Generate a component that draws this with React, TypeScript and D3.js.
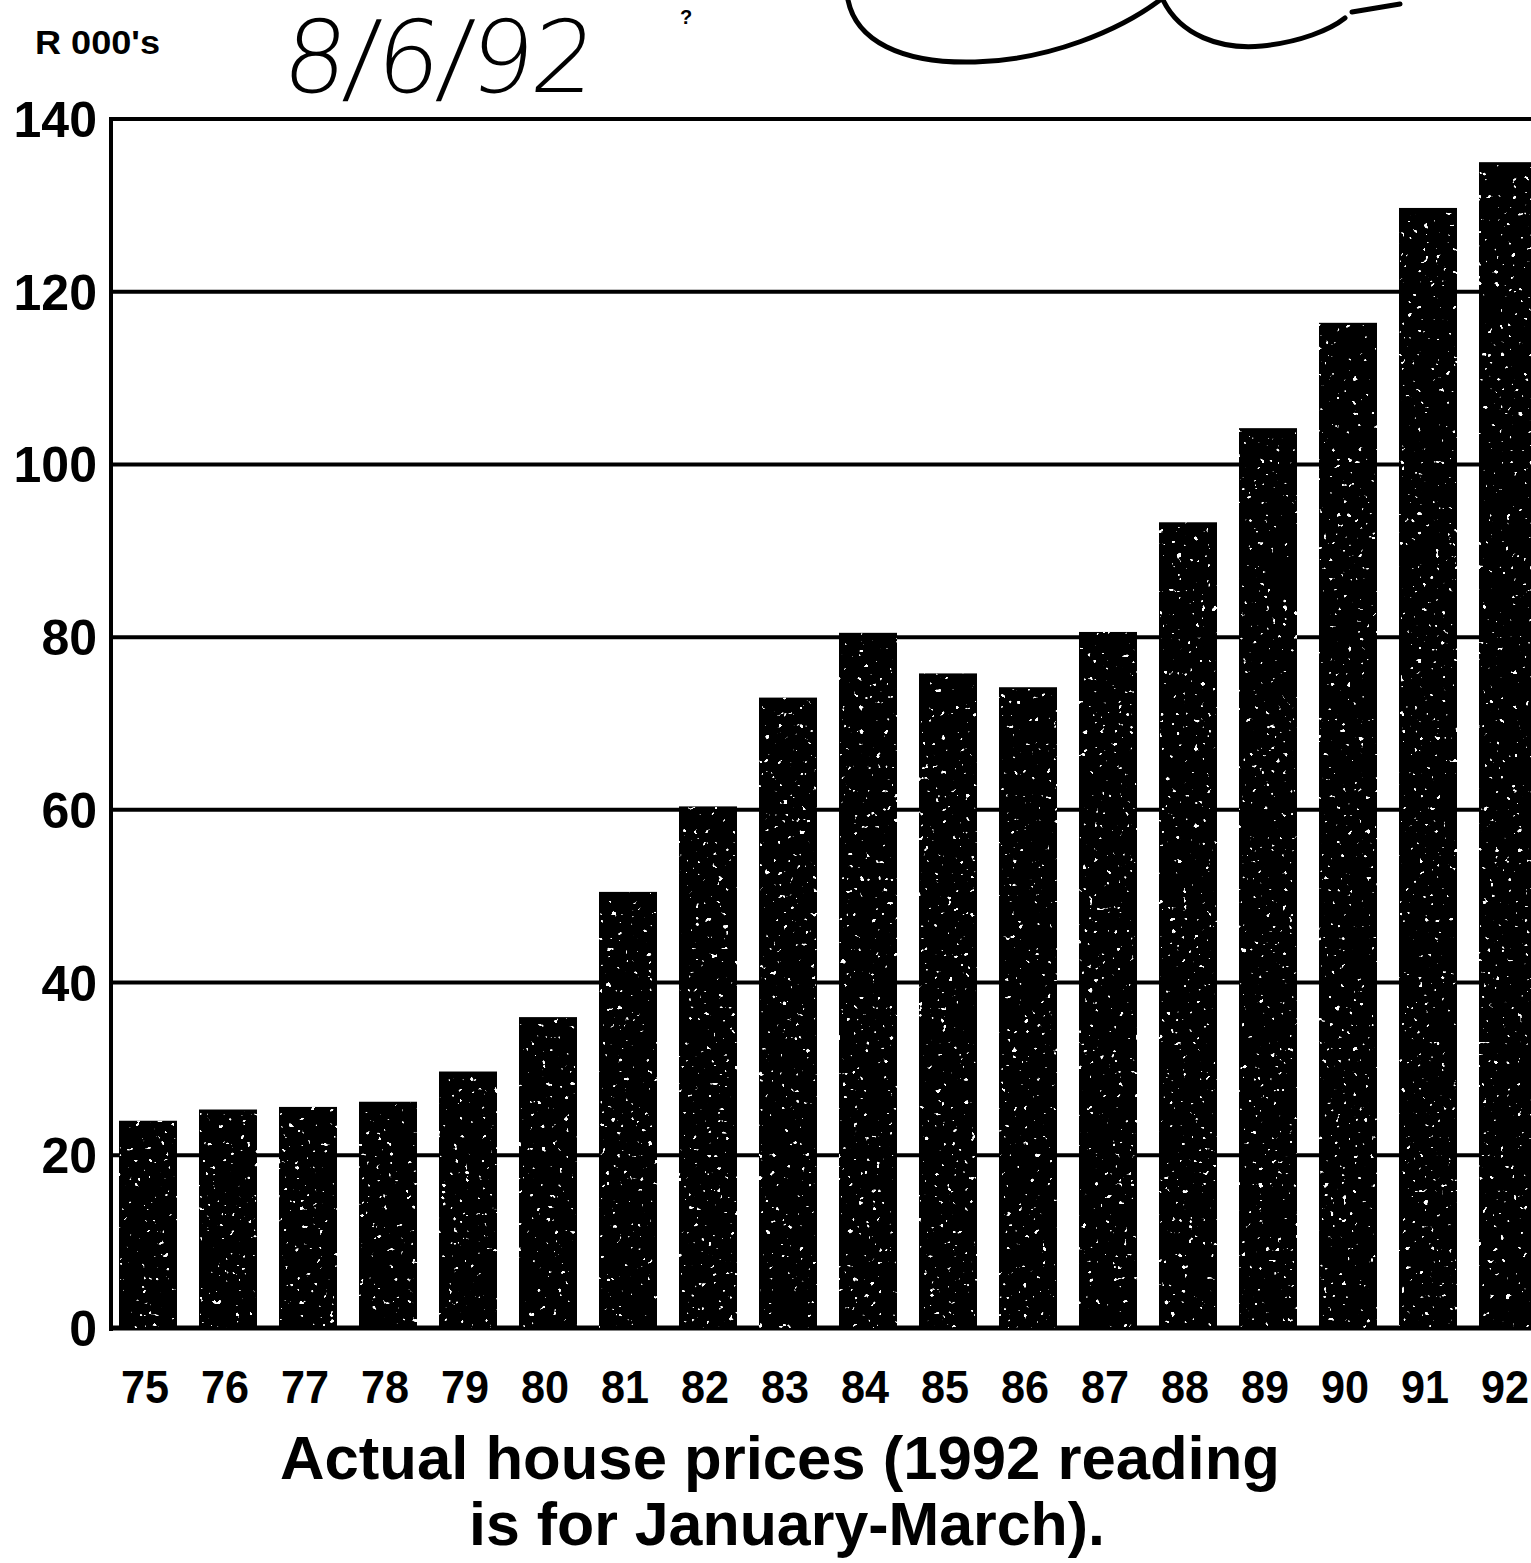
import React from "react";
import * as d3 from "d3";

// Annual average house prices, R thousands (1975–1992)
const years = ["75", "76", "77", "78", "79", "80", "81", "82", "83", "84", "85", "86", "87", "88", "89", "90", "91", "92"];
const prices = [24.0, 25.3, 25.6, 26.2, 29.7, 36.0, 50.5, 60.4, 73.0, 80.5, 75.8, 74.2, 80.6, 93.3, 104.2, 116.4, 129.7, 135.0];
const yTicks = [0, 20, 40, 60, 80, 100, 120, 140];
const unitLabel = "R 000's";
const titleLines = ["Actual house prices (1992 reading", "is for January-March)."];
const dateNote = "8/6/92";

const W = 1531;
const H = 1563;
const plotLeft = 111;
const plotTop = 119;
const plotBottom = 1328;

export default function App() {
  const x = d3
    .scaleBand<string>()
    .domain(years)
    .range([plotLeft, plotLeft + 80 * (years.length - 0.275 + 0.2)])
    .paddingInner(0.275)
    .paddingOuter(0.1);
  const y = d3.scaleLinear().domain([0, 140]).range([plotBottom, plotTop]);

  const font = "'Liberation Sans', Arial, sans-serif";

  return (
    <svg
      width={W}
      height={H}
      viewBox={`0 0 ${W} ${H}`}
      style={{ position: "absolute", left: 0, top: 0, background: "#fff" }}
    >
      <defs>
        <filter id="speckle" x="0" y="0" width="100%" height="100%" filterUnits="objectBoundingBox">
          <feTurbulence type="fractalNoise" baseFrequency="0.17" numOctaves={2} seed={11} result="noise" />
          <feColorMatrix
            in="noise"
            type="matrix"
            values="0 0 0 0 1  0 0 0 0 1  0 0 0 0 1  24 0 0 0 -17.3"
            result="dots"
          />
          <feComposite in="dots" in2="SourceAlpha" operator="in" />
        </filter>
      </defs>
      <rect width={W} height={H} fill="#fff" />

      {/* handwritten date and initials */}
      <text
        x={282}
        y={92}
        fontFamily="'DejaVu Sans', sans-serif"
        fontSize={100}
        fontWeight={200}
        fill="#000"
        transform="skewX(-6) translate(8,0)"
        letterSpacing={-2}
      >
        {dateNote}
      </text>
      <path
        d="M848,0 C856,40 900,64 975,62 C1050,60 1120,30 1160,0 M1163,0 C1180,35 1220,50 1262,46 C1300,42 1330,30 1345,18 M1352,12 L1400,4"
        fill="none"
        stroke="#000"
        strokeWidth={5}
        strokeLinecap="round"
      />
      <text x={680} y={24} fontFamily={font} fontSize={20} fontWeight="bold">?</text>

      {/* unit label */}
      <text
        x={35}
        y={54}
        fontFamily={font}
        fontSize={34}
        fontWeight="bold"
        textLength={125}
        lengthAdjust="spacingAndGlyphs"
      >
        {unitLabel}
      </text>

      {/* grid */}
      {yTicks.map((t) => (
        <line
          key={t}
          x1={plotLeft}
          x2={W}
          y1={y(t)}
          y2={y(t)}
          stroke="#000"
          strokeWidth={t === 0 ? 5 : 4}
        />
      ))}
      <line x1={plotLeft} x2={plotLeft} y1={plotTop - 2} y2={plotBottom + 3} stroke="#000" strokeWidth={4} />

      {/* bars */}
      {prices.map((v, i) => (
        <rect
          key={years[i]}
          x={x(years[i])}
          y={y(v)}
          width={x.bandwidth()}
          height={y(0) - y(v)}
          fill="#000"
        />
      ))}
      {prices.map((v, i) => (
        <rect
          key={"s" + years[i]}
          x={x(years[i])}
          y={y(v)}
          width={x.bandwidth()}
          height={y(0) - y(v)}
          fill="#fff"
          filter="url(#speckle)"
        />
      ))}

      {/* y tick labels */}
      {yTicks.map((t) => (
        <text
          key={"yl" + t}
          x={97}
          y={y(t) + 18}
          textAnchor="end"
          fontFamily={font}
          fontSize={50}
          fontWeight="bold"
        >
          {t}
        </text>
      ))}

      {/* x tick labels */}
      {years.map((yr) => (
        <text
          key={"xl" + yr}
          x={(x(yr) ?? 0) + x.bandwidth() / 2 - 3}
          y={1403}
          textAnchor="middle"
          fontFamily={font}
          fontSize={46}
          fontWeight="bold"
          textLength={48}
          lengthAdjust="spacingAndGlyphs"
        >
          {yr}
        </text>
      ))}

      {/* caption */}
      <text
        x={780}
        y={1479}
        textAnchor="middle"
        fontFamily={font}
        fontSize={62}
        fontWeight="bold"
        textLength={1000}
        lengthAdjust="spacingAndGlyphs"
      >
        {titleLines[0]}
      </text>
      <text
        x={787}
        y={1545}
        textAnchor="middle"
        fontFamily={font}
        fontSize={62}
        fontWeight="bold"
        textLength={636}
        lengthAdjust="spacingAndGlyphs"
      >
        {titleLines[1]}
      </text>
    </svg>
  );
}
